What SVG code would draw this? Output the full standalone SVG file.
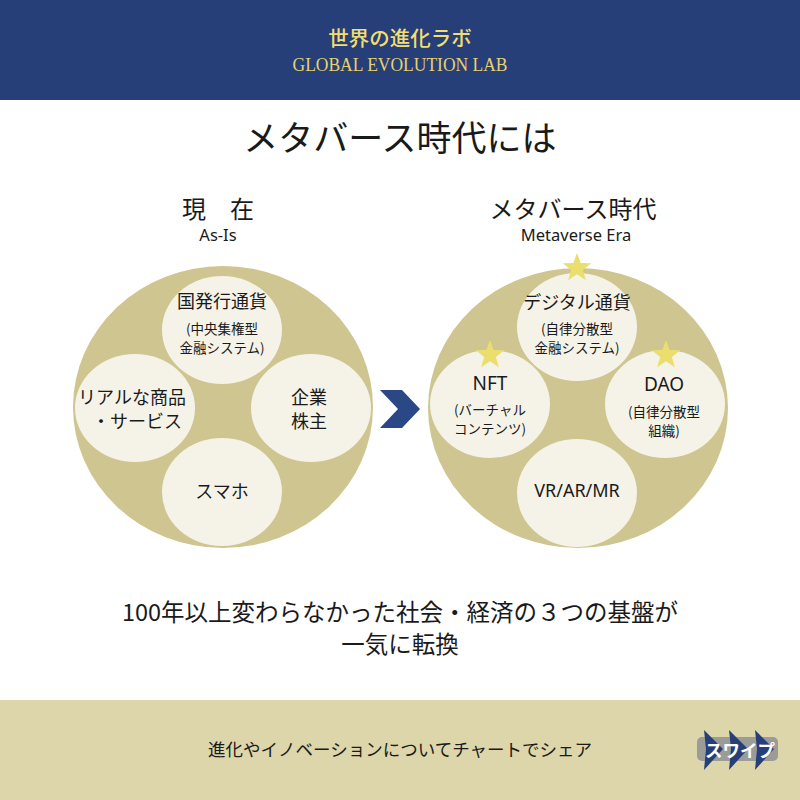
<svg xmlns="http://www.w3.org/2000/svg" xmlns:xlink="http://www.w3.org/1999/xlink" width="800" height="800" viewBox="0 0 800 800">
<style>
.jp{font-family:"Noto Sans CJK JP","Noto Sans",sans-serif;fill:#1a1a1a;text-anchor:middle}
.en{font-family:"Noto Sans","Liberation Sans",sans-serif;fill:#1a1a1a;text-anchor:middle}
.big{fill:#CEC590}
.small{fill:#F5F3E7}
.lbl{font-size:18px}
.sub{font-size:13.5px}
.star{fill:#EADF6E}
.navy{fill:#263F78}
</style>
<defs>
<path id="star" d="M0,-15 L3.64,-5.02 L14.27,-4.64 L5.9,1.92 L8.82,12.14 L0,6.2 L-8.82,12.14 L-5.9,1.92 L-14.27,-4.64 L-3.64,-5.02 Z"/>
<path id="chev" d="M0,0 L19,19 L0,40 L2,19 Z"/>
</defs>
<rect width="800" height="800" fill="#FFFFFF"/>
<g id="header">
<rect x="0" y="0" width="800" height="100" class="navy"/>
<text x="400" y="46" style="font-family:'Noto Sans CJK JP',sans-serif;font-size:20.5px;font-weight:500;fill:#F2DE70;text-anchor:middle">世界の進化ラボ</text>
<text x="400" y="71" textLength="215" lengthAdjust="spacingAndGlyphs" style="font-family:'Liberation Serif',serif;font-size:18px;fill:#E6D36C;text-anchor:middle">GLOBAL EVOLUTION LAB</text>
</g>
<g id="title">
<text x="400" y="151" class="jp" style="font-size:35px">メタバース時代には</text>
</g>
<g id="current">
<text x="218" y="218" class="jp" style="font-size:24px">現　在</text>
<text x="218" y="241" class="en" style="font-size:16.5px">As-Is</text>
<ellipse cx="223" cy="407" rx="150" ry="141" class="big"/>
<g id="node-currency">
<ellipse cx="222" cy="330" rx="60" ry="54" class="small"/>
<text x="222" y="308" class="jp lbl">国発行通貨</text>
<text x="222" y="334" class="jp sub">(中央集権型</text>
<text x="222" y="353" class="jp sub">金融システム)</text>
</g>
<g id="node-goods">
<ellipse cx="135" cy="408" rx="60" ry="54" class="small"/>
<text x="132" y="404" class="jp lbl">リアルな商品</text>
<text x="137" y="428" class="jp lbl">・サービス</text>
</g>
<g id="node-corp">
<ellipse cx="311" cy="408" rx="60" ry="54" class="small"/>
<text x="309" y="404" class="jp lbl">企業</text>
<text x="309" y="428" class="jp lbl">株主</text>
</g>
<g id="node-phone">
<ellipse cx="222" cy="492" rx="60" ry="54" class="small"/>
<text x="222" y="498" class="jp lbl">スマホ</text>
</g>
</g>
<g id="metaverse">
<text x="573" y="218" class="jp" style="font-size:24px">メタバース時代</text>
<text x="576" y="241" class="en" style="font-size:16.5px">Metaverse Era</text>
<ellipse cx="578" cy="408" rx="150" ry="140" class="big"/>
<g id="node-digital">
<ellipse cx="577" cy="327" rx="60" ry="54" class="small"/>
<text x="577" y="309" class="jp lbl">デジタル通貨</text>
<text x="577" y="334" class="jp sub">(自律分散型</text>
<text x="577" y="353" class="jp sub">金融システム)</text>
<use xlink:href="#star" href="#star" x="577" y="268" class="star"/>
</g>
<g id="node-nft">
<ellipse cx="490" cy="404" rx="60" ry="54" class="small"/>
<text x="490" y="390" class="en" style="font-size:19px">NFT</text>
<text x="490" y="415" class="jp sub">(バーチャル</text>
<text x="490" y="434" class="jp sub">コンテンツ)</text>
<use xlink:href="#star" href="#star" x="490" y="355" class="star"/>
</g>
<g id="node-dao">
<ellipse cx="665" cy="404" rx="60" ry="54" class="small"/>
<text x="664" y="391" class="en" style="font-size:19px">DAO</text>
<text x="664" y="417" class="jp sub">(自律分散型</text>
<text x="664" y="436" class="jp sub">組織)</text>
<use xlink:href="#star" href="#star" x="666" y="355" class="star"/>
</g>
<g id="node-vr">
<ellipse cx="577" cy="493" rx="60" ry="54" class="small"/>
<text x="577" y="497" class="en" style="font-size:18px">VR/AR/MR</text>
</g>
</g>
<g id="connectors">
<path d="M380,390 L402,390 L420,409 L402,428 L380,428 L398,409 Z" fill="#2B4886"/>
</g>
<g id="message">
<text x="400" y="621" class="jp" style="font-size:23.5px">100年以上変わらなかった社会・経済の３つの基盤が</text>
<text x="400" y="653" class="jp" style="font-size:23.5px">一気に転換</text>
</g>
<g id="footer">
<rect x="0" y="700" width="800" height="100" fill="#DCD6AA"/>
<text x="400" y="756" class="jp" style="font-size:17.5px">進化やイノベーションについてチャートでシェア</text>
<g id="swipe">
<rect x="697" y="737" width="81" height="24" rx="5" fill="#9B9B98"/>
<use xlink:href="#chev" href="#chev" x="704" y="730" class="navy"/>
<use xlink:href="#chev" href="#chev" x="729" y="730" class="navy"/>
<use xlink:href="#chev" href="#chev" x="755" y="730" class="navy"/>
<text x="740" y="757" style="font-family:'Noto Sans CJK JP',sans-serif;font-size:17.5px;font-weight:bold;fill:#FFFFFF;text-anchor:middle">スワイプ</text>
</g>
</g>
</svg>
